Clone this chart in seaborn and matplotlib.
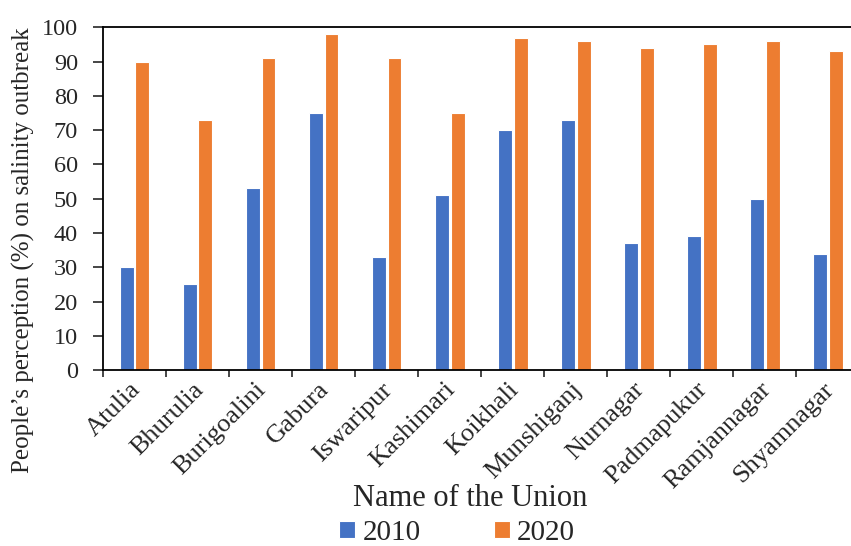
"""Grouped bar chart: people's perception of salinity outbreak by union, 2010 vs 2020."""

import matplotlib

matplotlib.use("Agg")
import matplotlib.pyplot as plt
import matplotlib.transforms as mtransforms
import numpy as np
import pandas as pd
import seaborn as sns
from matplotlib.ticker import FixedLocator

UNIONS = [
    "Atulia", "Bhurulia", "Burigoalini", "Gabura", "Iswaripur", "Kashimari",
    "Koikhali", "Munshiganj", "Nurnagar", "Padmapukur", "Ramjannagar", "Shyamnagar",
]
VALUES_2010 = [30, 25, 53, 75, 33, 51, 70, 73, 37, 39, 50, 34]
VALUES_2020 = [90, 73, 91, 98, 91, 75, 97, 96, 94, 95, 96, 93]
YEARS = ["2010", "2020"]
COLORS = ["#4472C4", "#ED7D31"]

df = pd.DataFrame({
    "union": UNIONS * 2,
    "year": [YEARS[0]] * len(UNIONS) + [YEARS[1]] * len(UNIONS),
    "value": VALUES_2010 + VALUES_2020,
})

sns.set_theme(style="white")
plt.rcParams["font.family"] = ["Liberation Serif", "DejaVu Serif"]

fig = plt.figure(figsize=(8.51, 5.46), dpi=100)
ax = fig.add_axes([0.121, 0.322, 0.889, 0.628])

sns.barplot(
    data=df, x="union", y="value", hue="year", order=UNIONS, hue_order=YEARS,
    palette=COLORS, width=0.5, gap=0.12, edgecolor="white", linewidth=0.8,
    saturation=1, ax=ax,
)

ax.set_ylim(0, 100)
ax.set_xlim(-0.5, len(UNIONS) - 0.5)
ax.set_yticks(np.arange(0, 101, 10))
ax.tick_params(axis="y", labelsize=17.5, length=7, width=1.2, direction="out", left=True, pad=11)
ax.tick_params(axis="x", which="major", length=0, labelsize=19, pad=6)
ax.xaxis.set_minor_locator(FixedLocator(np.arange(-0.5, len(UNIONS), 1.0)))
ax.tick_params(axis="x", which="minor", length=5, width=1.2, direction="out", bottom=True)
shift = mtransforms.ScaledTranslation(-4 / 72, 0, fig.dpi_scale_trans)
for lbl in ax.get_xticklabels():
    lbl.set_rotation(45)
    lbl.set_ha("right")
    lbl.set_va("top")
    lbl.set_rotation_mode("anchor")
    lbl.set_transform(lbl.get_transform() + shift)

for side in ["left", "bottom", "top"]:
    ax.spines[side].set_visible(True)
    ax.spines[side].set_color("black")
    ax.spines[side].set_linewidth(1.3)
ax.spines["right"].set_visible(False)

ax.set_xlabel("Name of the Union", fontsize=22)
ax.xaxis.set_label_coords(0.485, -0.333)
ax.set_ylabel("People\u2019s perception (%) on salinity outbreak", fontsize=18)
ax.yaxis.set_label_coords(-0.09, 0.35)

ax.legend_.remove()
handles, labels = ax.get_legend_handles_labels()
fig.legend(
    handles, labels, loc="center", bbox_to_anchor=(0.537, 0.024), ncol=2,
    frameon=False, fontsize=21, handlelength=0.55, handleheight=0.55,
    columnspacing=2.5, handletextpad=0.25,
)

fig.savefig("out.png", dpi=100)
